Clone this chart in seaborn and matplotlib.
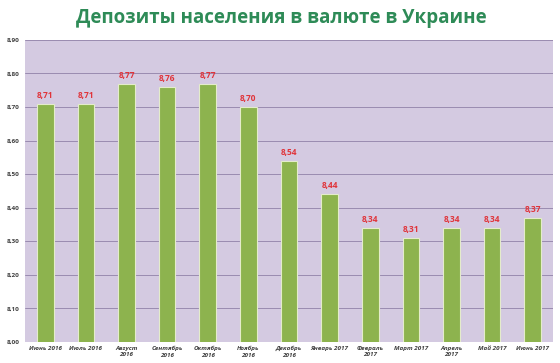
import numpy as np
import pandas as pd
import matplotlib
matplotlib.use('Agg')
import matplotlib.pyplot as plt
import seaborn as sns

months = ['Июнь 2016', 'Июль 2016', 'Август\n2016', 'Сентябрь\n2016', 'Октябрь\n2016',
          'Ноябрь\n2016', 'Декабрь\n2016', 'Январь 2017', 'Февраль\n2017', 'Март 2017',
          'Апрель\n2017', 'Май 2017', 'Июнь 2017']
deposits = [8.71, 8.71, 8.77, 8.76, 8.77, 8.70, 8.54, 8.44, 8.34, 8.31, 8.34, 8.34, 8.37]
y_ticks = [8.00, 8.10, 8.20, 8.30, 8.40, 8.50, 8.60, 8.70, 8.80, 8.90]

df = pd.DataFrame({'Month': months, 'Deposits': deposits})

sns.set_style('white')
plt.rcParams['font.family'] = ['Open Sans', 'DejaVu Sans']

fig = plt.figure(figsize=(5.6, 3.63), dpi=100)
ax = fig.add_axes([0.0446, 0.058, 0.943, 0.832])
ax.set_facecolor('#d4cae1')

sns.barplot(data=df, x='Month', y='Deposits', color='#8db34e', width=0.41,
            edgecolor='#e4eccb', linewidth=0.8, saturation=1, ax=ax, zorder=3)

ax.set_ylim(8.0, 8.9)
ax.set_yticks(y_ticks)
ax.set_yticklabels([f'{v:.2f}'.replace('.', ',') for v in y_ticks],
                   fontsize=4.6, fontweight='bold', color='#404040')
ax.set_xticks(range(len(months)))
ax.set_xticklabels(months, fontsize=4.5, fontstyle='italic', fontweight='bold',
                   color='#404040', linespacing=1.3)
ax.set_xlim(-0.5, len(months) - 0.5)
ax.yaxis.grid(True, color='#9a8cb0', linewidth=0.7, zorder=0)
ax.tick_params(axis='y', length=0, pad=4)
ax.tick_params(axis='x', length=0, pad=3)
ax.set_xlabel('')
ax.set_ylabel('')
for s in ax.spines.values():
    s.set_visible(False)

for i, v in enumerate(deposits):
    ax.text(i, v + 0.012, f'{v:.2f}'.replace('.', ','), ha='center', va='bottom',
            fontsize=6, fontweight='bold', color='#e0343a')

fig.text(0.503, 0.95, 'Депозиты населения в валюте в Украине', ha='center', va='center',
         fontsize=13.5, fontweight='bold', color='#2e8b57')

fig.savefig('out.png', dpi=100)
